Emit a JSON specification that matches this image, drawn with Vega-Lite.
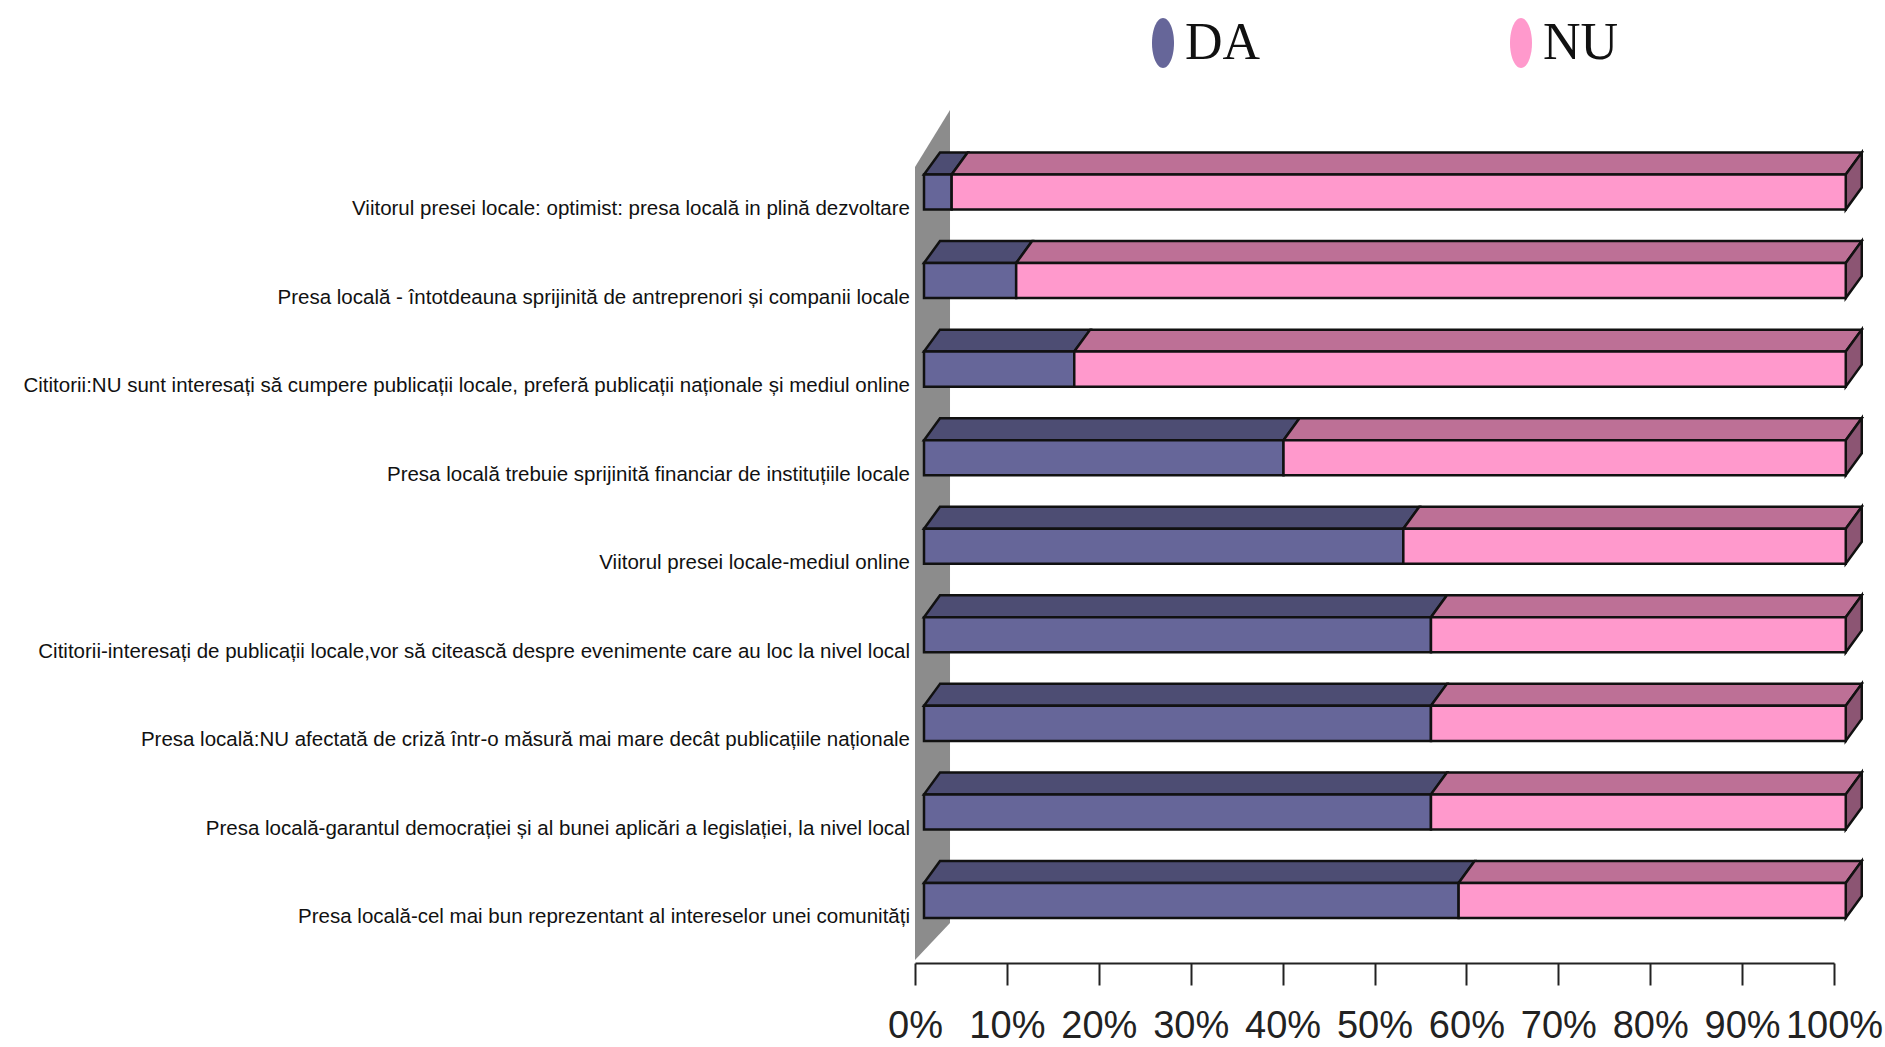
{
"$schema":"https://vega.github.io/schema/vega-lite/v6.json",
"width":919,"height":853,
"autosize":{"type":"none"},
"padding":{"left":915,"top":110,"right":51,"bottom":84},
"background":"white",
"view":{"stroke":null},
"config":{"axis":{"grid":false},"view":{"stroke":null}},
"datasets":{
"bars":[
{"question":"Viitorul presei locale: optimist: presa locală in plină dezvoltare","rank":1,"answer":"DA","value":3},
{"question":"Viitorul presei locale: optimist: presa locală in plină dezvoltare","rank":1,"answer":"NU","value":97},
{"question":"Presa locală - întotdeauna sprijinită de antreprenori și companii locale","rank":2,"answer":"DA","value":10},
{"question":"Presa locală - întotdeauna sprijinită de antreprenori și companii locale","rank":2,"answer":"NU","value":90},
{"question":"Cititorii:NU sunt interesați să cumpere publicații locale, preferă publicații naționale și mediul online","rank":3,"answer":"DA","value":16.3},
{"question":"Cititorii:NU sunt interesați să cumpere publicații locale, preferă publicații naționale și mediul online","rank":3,"answer":"NU","value":83.7},
{"question":"Presa locală trebuie sprijinită financiar de instituțiile locale","rank":4,"answer":"DA","value":39},
{"question":"Presa locală trebuie sprijinită financiar de instituțiile locale","rank":4,"answer":"NU","value":61},
{"question":"Viitorul presei locale-mediul online","rank":5,"answer":"DA","value":52},
{"question":"Viitorul presei locale-mediul online","rank":5,"answer":"NU","value":48},
{"question":"Cititorii-interesați de publicații locale,vor să citească despre evenimente care au loc la nivel local","rank":6,"answer":"DA","value":55},
{"question":"Cititorii-interesați de publicații locale,vor să citească despre evenimente care au loc la nivel local","rank":6,"answer":"NU","value":45},
{"question":"Presa locală:NU afectată de criză într-o măsură mai mare decât publicațiile naționale","rank":7,"answer":"DA","value":55},
{"question":"Presa locală:NU afectată de criză într-o măsură mai mare decât publicațiile naționale","rank":7,"answer":"NU","value":45},
{"question":"Presa locală-garantul democrației și al bunei aplicări a legislației, la nivel local","rank":8,"answer":"DA","value":55},
{"question":"Presa locală-garantul democrației și al bunei aplicări a legislației, la nivel local","rank":8,"answer":"NU","value":45},
{"question":"Presa locală-cel mai bun reprezentant al intereselor unei comunități","rank":9,"answer":"DA","value":58},
{"question":"Presa locală-cel mai bun reprezentant al intereselor unei comunități","rank":9,"answer":"NU","value":42}
],
"wall":[
{"x":0,"top":0.718,"bottom":9.672},
{"x":3.81,"top":0.074,"bottom":9.254}
]
},
"layer":[
{
"data":{"name":"wall"},
"mark":{"type":"area","color":"#8c8c8c","orient":"vertical","clip":false},
"encoding":{
"x":{"field":"x","type":"quantitative","scale":{"domain":[0,100],"nice":false},
"axis":{"title":null,"values":[0,10,20,30,40,50,60,70,80,90,100],"labelExpr":"datum.value+'%'","domainColor":"#222222","domainWidth":2,"tickColor":"#222222","tickWidth":2,"tickSize":22,"labelFont":"Liberation Sans","labelFontSize":38,"labelColor":"#222222","labelPadding":22,"labelOverlap":false,"labelBound":false,"labelFlush":false,"grid":false}},
"y":{"field":"top","type":"quantitative","scale":{"domain":[0.074,9.706],"reverse":true,"nice":false,"zero":false},"axis":null},
"y2":{"field":"bottom"}
}
},
{
"data":{"name":"bars"},
"transform":[
{"stack":"value","groupby":["rank"],"sort":[{"field":"answer","order":"ascending"}],"as":["start","end"]},
{"filter":"datum.answer=='DA'"},
{"calculate":"[0,1]","as":"edge"},{"flatten":["edge"]},
{"calculate":"0.98+1.003*datum.start+1.74*datum.edge","as":"xa"},
{"calculate":"0.98+1.003*datum.end+1.74*datum.edge","as":"xb"},
{"calculate":"datum.rank-0.198-0.248*datum.edge","as":"ya"}
],
"mark":{"type":"area","orient":"horizontal","fill":"#4d4d73","stroke":"#111111","strokeWidth":2.5},
"encoding":{
"x":{"field":"xa","type":"quantitative"},
"x2":{"field":"xb"},
"y":{"field":"ya","type":"quantitative"},
"detail":{"field":"rank"}
}
},
{
"data":{"name":"bars"},
"transform":[
{"stack":"value","groupby":["rank"],"sort":[{"field":"answer","order":"ascending"}],"as":["start","end"]},
{"filter":"datum.answer=='NU'"},
{"calculate":"[0,1]","as":"edge"},{"flatten":["edge"]},
{"calculate":"0.98+1.003*datum.start+1.74*datum.edge","as":"xa"},
{"calculate":"0.98+1.003*datum.end+1.74*datum.edge","as":"xb"},
{"calculate":"datum.rank-0.198-0.248*datum.edge","as":"ya"}
],
"mark":{"type":"area","orient":"horizontal","fill":"#bd7096","stroke":"#111111","strokeWidth":2.5},
"encoding":{
"x":{"field":"xa","type":"quantitative"},
"x2":{"field":"xb"},
"y":{"field":"ya","type":"quantitative"},
"detail":{"field":"rank"}
}
},
{
"data":{"name":"bars"},
"transform":[
{"filter":"datum.answer=='NU'"},
{"calculate":"[0,1]","as":"edge"},{"flatten":["edge"]},
{"calculate":"0.98+1.003*100+1.74*datum.edge","as":"xa"},
{"calculate":"datum.rank-0.198-0.248*datum.edge","as":"ya"},
{"calculate":"datum.rank+0.198-0.248*datum.edge","as":"yb"}
],
"mark":{"type":"area","orient":"vertical","color":"#8c5573","stroke":"#111111","strokeWidth":2.5},
"encoding":{
"x":{"field":"xa","type":"quantitative"},
"y":{"field":"ya","type":"quantitative"},
"y2":{"field":"yb"},
"detail":{"field":"rank"}
}
},
{
"data":{"name":"bars"},
"transform":[
{"stack":"value","groupby":["rank"],"sort":[{"field":"answer","order":"ascending"}],"as":["start","end"]},
{"calculate":"0.98+1.003*datum.start","as":"xa"},
{"calculate":"0.98+1.003*datum.end","as":"xb"},
{"calculate":"datum.rank-0.198","as":"ya"},
{"calculate":"datum.rank+0.198","as":"yb"}
],
"mark":{"type":"rect","stroke":"#111111","strokeWidth":2.5},
"encoding":{
"x":{"field":"xa","type":"quantitative"},
"x2":{"field":"xb"},
"y":{"field":"ya","type":"quantitative"},
"y2":{"field":"yb"},
"color":{"field":"answer","type":"nominal","scale":{"domain":["DA","NU"],"range":["#666699","#ff99cc"]},
"legend":{"title":null,"orient":"none","direction":"horizontal","legendX":198,"legendY":-117,"columns":2,"columnPadding":210,
"labelFont":"Liberation Serif","labelFontSize":52,"labelColor":"#111111","labelOffset":-28,
"symbolType":"M0,-0.5A0.22,0.5 0 1,1 0,0.5A0.22,0.5 0 1,1 0,-0.5Z","symbolSize":10000,"symbolStrokeWidth":0,"symbolOpacity":1}}
}
},
{
"data":{"name":"bars"},
"transform":[{"filter":"datum.answer=='DA'"}],
"mark":{"type":"text","align":"right","baseline":"middle","dx":-5,"dy":17,"font":"Liberation Sans","fontSize":20.5,"color":"#111111"},
"encoding":{
"x":{"datum":0,"type":"quantitative"},
"y":{"field":"rank","type":"quantitative"},
"text":{"field":"question","type":"nominal"}
}
}
]
}
